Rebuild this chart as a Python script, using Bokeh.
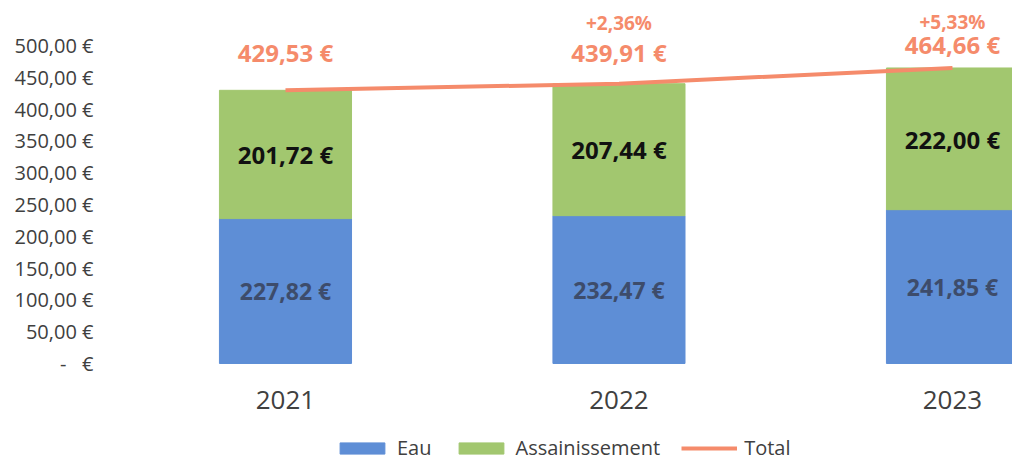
from bokeh.plotting import figure
from bokeh.models import ColumnDataSource, FixedTicker, Legend, LegendItem, Range1d
from bokeh.core.properties import value
from bokeh.embed import file_html
from bokeh.resources import INLINE

years = ["2021", "2022", "2023"]
eau = [227.82, 232.47, 241.85]
assainissement = [201.72, 207.44, 222.00]
total = [429.53, 439.91, 464.66]
variation = ["", "+2,36%", "+5,33%"]
y_ticks = [0, 50, 100, 150, 200, 250, 300, 350, 400, 450, 500]

# label pixel offsets (styling)
total_label_dy = [-38, -31, -23]
pct_label_dy = [-61, -61, -46]

BLUE = "#5E8ED6"
GREEN = "#A2C76F"
ORANGE = "#F58B6B"
FONT = "Open Sans"


def eur(v):
    if v == 0:
        return "-\u00a0\u00a0\u00a0€"
    return f"{v:.2f}".replace(".", ",") + " €"


xs = list(range(len(years)))
src = ColumnDataSource(dict(
    x=xs,
    year=years,
    zero=[0] * len(years),
    eau_top=eau,
    tot=total,
    eau_mid=[e / 2 for e in eau],
    ass_mid=[e + a / 2 for e, a in zip(eau, assainissement)],
    eau_lab=[eur(v) for v in eau],
    ass_lab=[eur(v) for v in assainissement],
    tot_lab=[eur(v) for v in total],
    pct=variation,
    tot_dy=total_label_dy,
    pct_dy=pct_label_dy,
))

p = figure(width=1012, height=461, output_backend="svg", toolbar_location=None,
           x_range=Range1d(-0.5247, 2.18), y_range=Range1d(-154.1, 570.75),
           min_border_left=110, min_border_right=0, min_border_top=0,
           min_border_bottom=0)
p.outline_line_color = None
p.xgrid.grid_line_color = None
p.ygrid.grid_line_color = None
p.background_fill_color = "white"

r_eau = p.vbar(x="x", bottom=0, top="eau_top", width=0.396, source=src,
               fill_color=BLUE, line_color=BLUE)
r_ass = p.vbar(x="x", bottom="eau_top", top="tot", width=0.396, source=src,
               fill_color=GREEN, line_color=GREEN)
r_tot = p.line(x="x", y="tot", source=src, line_color=ORANGE, line_width=4)

p.text(x="x", y="eau_mid", text="eau_lab", source=src, text_align="center",
       text_baseline="middle", text_font=value(FONT), text_font_style="bold",
       text_font_size="23px", text_color="#3D4C6B")
p.text(x="x", y="ass_mid", text="ass_lab", source=src, text_align="center",
       text_baseline="middle", text_font=value(FONT), text_font_style="bold",
       text_font_size="24px", text_color="#111111")
p.text(x="x", y="tot", text="tot_lab", source=src, y_offset="tot_dy",
       text_align="center", text_baseline="middle", text_font=value(FONT),
       text_font_style="bold", text_font_size="24px", text_color=ORANGE)
p.text(x="x", y="tot", text="pct", source=src, y_offset="pct_dy",
       text_align="center", text_baseline="middle", text_font=value(FONT),
       text_font_style="bold", text_font_size="19px", text_color=ORANGE)

# category labels under the bars
p.text(x="x", y="zero", text="year", source=src, y_offset=37,
       text_align="center", text_baseline="middle", text_font=value(FONT),
       text_font_size="26px", text_color="#404040")

p.xaxis.visible = False

p.yaxis.ticker = FixedTicker(ticks=y_ticks)
p.yaxis.major_label_overrides = {t: eur(t) for t in y_ticks}
p.yaxis.axis_line_color = None
p.yaxis.major_tick_line_color = None
p.yaxis.minor_tick_line_color = None
p.yaxis.major_tick_out = 0
p.yaxis.major_label_standoff = 17
p.yaxis.major_label_text_font = FONT
p.yaxis.major_label_text_font_size = "20px"
p.yaxis.major_label_text_color = "#404040"

legend = Legend(items=[LegendItem(label="Eau", renderers=[r_eau]),
                       LegendItem(label="Assainissement", renderers=[r_ass]),
                       LegendItem(label="Total", renderers=[r_tot])],
                orientation="horizontal", location=(224, 0),
                padding=0, margin=0, border_line_color=None,
                background_fill_alpha=0, label_text_font=FONT,
                label_text_font_size="20px", label_text_color="#404040",
                glyph_width=56, glyph_height=14, spacing=21, label_standoff=7)
p.add_layout(legend)

open("out.html", "w").write(file_html(p, INLINE))
